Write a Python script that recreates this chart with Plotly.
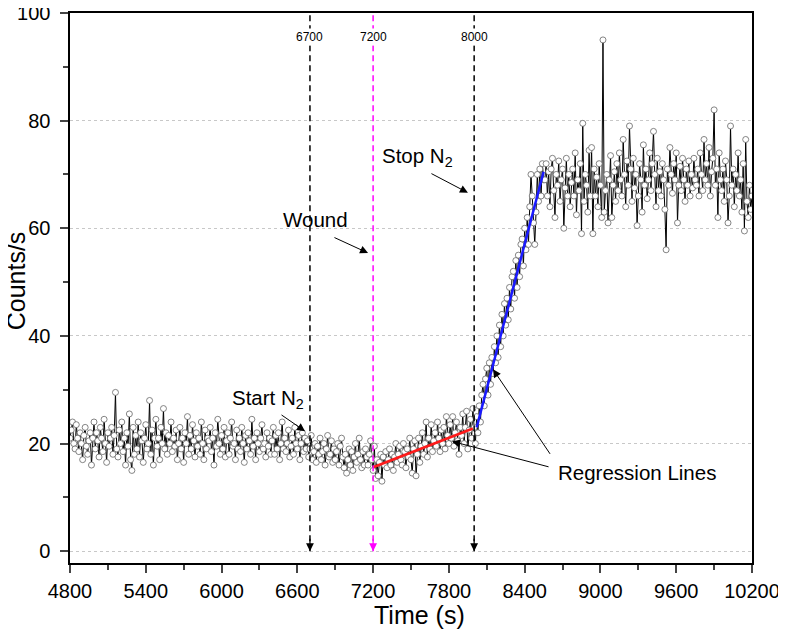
import plotly.graph_objects as go

# counter sampled every 10 s from 4800 s
t_start = 4800
t_step = 10

counts = [
    # 4800 - 5490
    21, 22.5, 24, 20, 19, 23.5, 21, 18.5, 22, 20,
    17, 21.5, 23, 19.5, 18, 20.5, 22, 16, 21, 24,
    19, 22, 20.5, 17.5, 23, 21, 18.5, 24.5, 20, 16.5,
    22, 19.5, 21, 23, 18, 21.5, 29.5, 19, 17.5, 22.5,
    20, 24, 18.5, 21, 16, 22, 19.5, 25.5, 17, 15,
    23, 18, 21.5, 19, 24, 17.5, 22, 20.5, 16.5, 21,
    23.5, 19, 20, 28, 18, 22.5, 16, 21, 24.5, 19.5,
    # 5500 - 6690
    21, 17, 23, 20, 26.5, 19, 22, 18, 21.5, 20,
    24, 18.5, 21, 19.5, 22.5, 17, 20, 23, 19, 21,
    16.5, 22, 20, 25, 18, 21.5, 19, 23.5, 20.5, 17.5,
    22, 19.5, 21, 18, 24, 20, 17, 22.5, 19, 21,
    20.5, 23, 18.5, 21, 16, 22, 19.5, 24.5, 20, 18,
    21.5, 19, 23, 17.5, 20.5, 22, 18, 21, 24, 19.5,
    20, 17, 22.5, 19, 21, 18.5, 23, 20, 16.5, 21.5,
    19, 22, 20.5, 18, 24.5, 19.5, 21, 17, 22, 20,
    18.5, 21, 23.5, 19, 20, 17.5, 22, 19.5, 21, 18,
    20.5, 23, 18, 21.5, 19, 22, 17, 20, 24, 19,
    21, 18.5, 20, 22.5, 17.5, 19.5, 21, 18, 23, 20,
    19, 21.5, 17, 20, 22, 18.5, 21, 19, 20.5, 17.5,
    # 6700 - 7190
    19, 21.5, 17, 18.5, 20, 16.5, 19.5, 18, 21, 17,
    18.5, 20, 16, 19, 21.5, 17.5, 18, 20.5, 16.5, 19,
    17, 18.5, 20, 16, 19.5, 21, 17.5, 15.5, 18, 14.5,
    17, 19, 16, 18.5, 15, 17.5, 20, 16.5, 18, 21,
    17, 15.5, 18.5, 16, 19, 17.5, 16, 18, 20.5, 17,
    # 7200 - 7990
    15, 19.5, 13.5, 17, 14, 16.5, 18, 13, 17.5, 16,
    18.5, 15.5, 17, 19, 16, 18, 15, 17.5, 20, 16.5,
    18, 19.5, 17, 16, 20, 18.5, 15.5, 19, 17.5, 21,
    17, 14.5, 19, 20.5, 14, 18, 21, 16.5, 19.5, 22,
    18, 20, 24, 17.5, 21, 19, 23.5, 18.5, 20.5, 22,
    19.5, 24, 21, 18.5, 22.5, 20, 23, 19, 25, 21.5,
    20, 23.5, 21, 25, 19.5, 22, 24, 20.5, 18, 23,
    21.5, 25.5, 20, 23, 26, 19, 22.5, 24.5, 21, 26.5,
    # 8000 - 8550
    23, 20, 25, 22, 27, 24, 29, 31, 27, 32,
    34, 29, 35, 31, 36, 33, 38, 35, 40, 36,
    42, 38, 44, 40, 46, 42, 47, 43, 49, 45,
    51, 52, 47, 54, 49, 55, 51, 57, 58, 53,
    60, 56, 62, 57, 64, 70, 66, 61, 57, 63,
    70, 65, 71, 66, 72, 69,
    # 8560 - 10200
    69, 72, 66, 70.5, 64, 71, 73, 67, 62, 70,
    68, 72.5, 65, 69, 71, 60, 67.5, 73, 66, 70,
    64, 68.5, 71, 66, 74, 62.5, 69, 67, 72, 59,
    79.5, 65, 70, 68, 63, 74.5, 66, 75, 59, 71,
    66, 69.5, 64, 72, 68, 62, 95, 63, 67, 70,
    61, 69, 73.5, 62, 68, 70.5, 65, 72, 67, 74,
    69, 66, 76.5, 70, 64, 72.5, 68, 79, 71, 65,
    73, 67.5, 70, 60.5, 66, 72, 69, 63, 75.5, 68,
    71, 65.5, 69, 74, 67, 72, 78, 70, 64, 73,
    67, 70.5, 66, 72, 69, 63.5, 56, 71, 68, 75,
    70, 66.5, 72, 69, 74, 61, 68, 71.5, 67, 73,
    69, 65, 71, 68, 72.5, 66, 70, 67.5, 73, 69,
    68, 71, 66, 74, 70, 67, 76.5, 69, 72, 68,
    75, 66, 70.5, 73, 82, 68, 71, 62, 74, 69,
    67, 71, 65, 72.5, 69, 61, 66, 79, 68, 71,
    64, 70, 67, 74, 66, 69, 63, 72, 59.5, 76.5,
    65, 62, 68, 63.5, 66,
]

time_s = [t_start + t_step * i for i in range(len(counts))]

# linear regression lines
red_fit_t = [7200, 7990]
red_fit_y = [15.6, 22.8]
blue_fit_t = [8020, 8550]
blue_fit_y = [23.0, 70.5]

# event markers
event_t = [6700, 7200, 8000]
event_labels = ['6700', '7200', '8000']
event_colors = ['black', '#ff00ff', 'black']

FONT = 'Liberation Sans'

fig = go.Figure()

fig.add_trace(go.Scatter(
    x=time_s, y=counts, mode='lines+markers',
    line=dict(color='black', width=1),
    marker=dict(symbol='circle', size=6, color='white',
                line=dict(color='#666666', width=0.8)),
    showlegend=False))

fig.add_trace(go.Scatter(x=red_fit_t, y=red_fit_y, mode='lines',
                         line=dict(color='#ff1a1a', width=2.5), showlegend=False))
fig.add_trace(go.Scatter(x=blue_fit_t, y=blue_fit_y, mode='lines',
                         line=dict(color='#1a1aff', width=2.5), showlegend=False))

# dashed event lines with arrowhead at 0 and value label at top
for t, lab, col in zip(event_t, event_labels, event_colors):
    fig.add_shape(type='line', x0=t, x1=t, y0=0, y1=100, xref='x', yref='y',
                  line=dict(color=col, width=1.5, dash='6px,4px'))
    fig.add_annotation(x=t, y=0, ax=0, ay=-14, showarrow=True, text='',
                       arrowhead=2, arrowsize=1.3, arrowwidth=1.2, arrowcolor=col)
    fig.add_annotation(x=t, y=95.5, text=lab, showarrow=False, bgcolor='white',
                       font=dict(family=FONT, size=12, color='black'))

# callouts: (text, text pos, arrow tails, arrow tips)
callouts = [
    ('Start N<sub>2</sub>', (6368, 28.3), [((6463, 25.5), (6661, 22.3))]),
    ('Wound', (6740, 61.7), [((6882, 58.4), (7160, 55.4))]),
    ('Stop N<sub>2</sub>', (7555, 73.2), [((7650, 70.3), (7951, 66.6))]),
    ('Regression Lines', (9290, 14.7), [((8601, 15.6), (7825, 20.4)),
                                        ((8609, 17.8), (8149, 33.8))]),
]
for txt, (tx, ty), arrows in callouts:
    fig.add_annotation(x=tx, y=ty, text=txt, showarrow=False,
                       font=dict(family=FONT, size=20.5, color='black'))
    for (ax_, ay_), (hx, hy) in arrows:
        fig.add_annotation(x=hx, y=hy, ax=ax_, ay=ay_, axref='x', ayref='y',
                           text='', showarrow=True, arrowhead=2, arrowsize=1.6,
                           arrowwidth=1, arrowcolor='black')

# axis titles
fig.add_annotation(xref='paper', yref='paper', x=-0.08, y=0.513, text='Counts/s',
                   textangle=-90, showarrow=False, xanchor='center', yanchor='middle',
                   font=dict(family=FONT, size=25, color='black'))
fig.add_annotation(xref='paper', yref='paper', x=0.513, y=-0.0945, text='Time (s)',
                   showarrow=False, xanchor='center', yanchor='middle',
                   font=dict(family=FONT, size=25, color='black'))

# the page body shifts the figure by 8px, margins compensate for it
fig.update_layout(
    width=786, height=641,
    margin=dict(l=62, r=42, t=5, b=86),
    plot_bgcolor='white', paper_bgcolor='white',
    font=dict(family=FONT, size=20, color='black'),
    xaxis=dict(range=[4800, 10200], tick0=4800, dtick=600, tickformat='d',
               ticks='outside', ticklen=8, tickwidth=1.5, showgrid=False,
               zeroline=False, automargin=False, ticklabelstandoff=1,
               ticklabeloverflow='allow',
               showline=True, linewidth=2, linecolor='black', mirror=True,
               minor=dict(dtick=300, ticks='outside', ticklen=5, tickwidth=1.5,
                          showgrid=False)),
    yaxis=dict(range=[-2.2, 100], tick0=0, dtick=20, ticks='outside',
               ticklen=8, tickwidth=1.5, showgrid=True, gridcolor='#c8c8c8',
               griddash='dot', gridwidth=1, zeroline=False, automargin=False,
               ticksuffix='\u00a0', ticklabeloverflow='allow',
               showline=True, linewidth=2, linecolor='black', mirror=True,
               minor=dict(dtick=10, ticks='outside', ticklen=5, tickwidth=1.5,
                          showgrid=False)),
)

fig.write_html('out.html')
